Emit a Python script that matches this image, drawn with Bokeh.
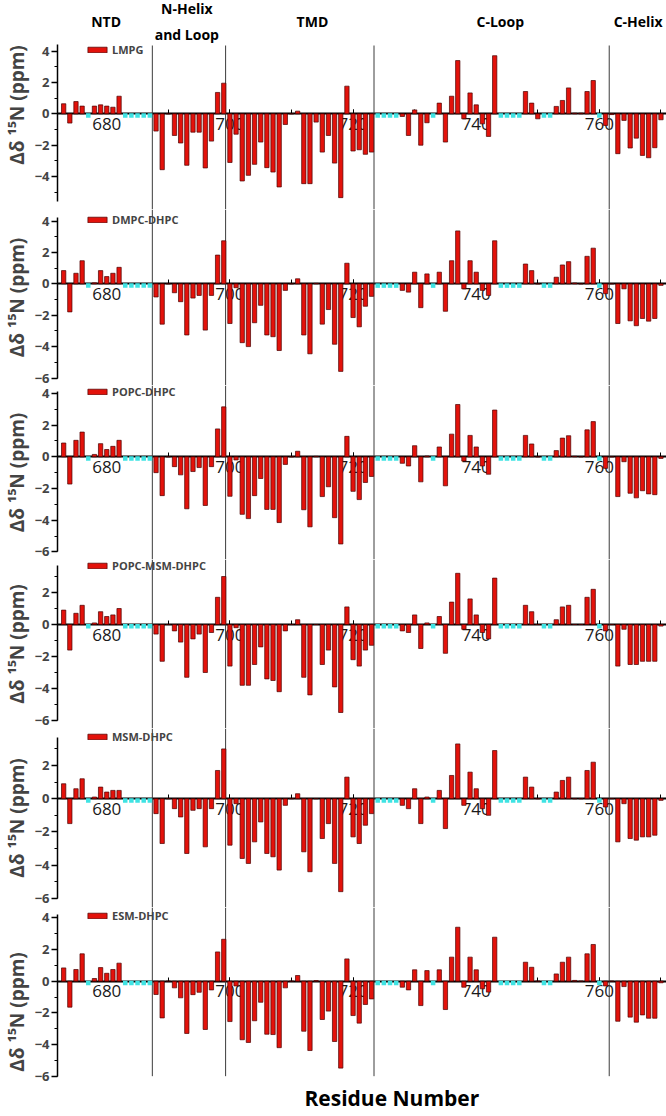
from bokeh.plotting import figure
from bokeh.models import Range1d, SingleIntervalTicker, Legend, LegendItem, ColumnDataSource
from bokeh.layouts import column
from bokeh.core.properties import value
from bokeh.embed import file_html
from bokeh.resources import INLINE

N = None
residues = list(range(673, 771))
unassigned = [677, 683, 684, 685, 686, 687, 724, 725, 726, 727, 733,
              744, 745, 746, 747, 751, 752, 760]
domain_bounds = [687.4, 699.3, 723.4, 761.6]
domain_names = ["NTD", "N-Helix\nand Loop", "TMD", "C-Loop", "C-Helix"]
domain_label_x = [679.9, 693.0, 713.4, 743.9, 766.3]
x_tick_interval = 20
panel_names = ["LMPG", "DMPC-DHPC", "POPC-DHPC", "POPC-MSM-DHPC", "MSM-DHPC", "ESM-DHPC"]
x_title = "Residue Number"
x_title_pos = 726.3
y_title = "Δδ ¹⁵N (ppm)"

lmpg = [0.64, -0.59, 0.78, 0.49, N, 0.49, 0.57, 0.49, 0.42, 1.12,
        N, N, N, N, N,
        -1.10, -3.56, 0.00, -1.38, -1.86, -3.28, -1.17, -1.17, -3.45, -1.74, 1.36, 1.95,
        -3.10, -1.30, -4.28, -3.92, -3.22, -1.80, -3.43, -3.71, -4.66, -0.68,
        0.00, 0.17, -4.45, -4.45, -0.53, -2.44, -1.38, -3.14, -5.34, 1.76,
        -2.37, -2.29, -2.58, -2.44,
        N, N, N, N,
        -0.17, -1.38, 0.25, -2.00, -0.57,
        N,
        0.68, -1.80, 1.12, 3.39, -0.32, 1.33, 0.57, -0.64, -1.44, 3.70,
        N, N, N, N,
        1.42, 0.68, -0.32,
        N, N,
        0.47, 0.85, 1.65, 0.04, 0.04, 1.42, 2.12,
        N,
        -0.74, -0.05, -2.54, -0.42, -2.18, -1.55, -2.65, -2.80, -2.16, -0.38]

dmpc_dhpc = [0.84, -1.79, 0.67, 1.47, N, 0.06, 0.84, 0.46, 0.67, 1.05,
             N, N, N, N, N,
             -0.84, -2.57, 0.00, -0.57, -1.14, -3.26, -0.91, -0.74, -2.95, -0.74, 1.83, 2.74,
             -2.53, -0.25, -3.75, -4.00, -2.48, -1.37, -3.26, -3.37, -4.25, -0.42,
             0.00, 0.32, -3.26, -4.46, 0.03, -2.57, -1.64, -3.85, -5.58, 1.31,
             -2.15, -2.74, -1.43, -0.80,
             N, N, N, N,
             -0.42, -0.53, 0.74, -1.52, 0.63,
             N,
             0.74, -1.75, 1.47, 3.37, -0.32, 1.47, 0.74, -0.42, -0.74, 2.74,
             N, N, N, N,
             1.26, 0.84, 0.00,
             N, N,
             0.42, 1.20, 1.41, 0.05, 0.00, 1.75, 2.27,
             N,
             -0.63, 0.00, -2.53, -0.32, -2.36, -2.67, -2.21, -2.38, -2.21, -0.10]

popc_dhpc = [0.87, -1.72, 1.04, 1.56, N, 0.15, 0.83, 0.46, 0.66, 1.04,
             N, N, N, N, N,
             -1.00, -2.45, 0.00, -0.62, -1.14, -3.28, -0.93, -0.68, -3.07, -0.62, 1.76, 3.15,
             -2.49, -0.20, -3.63, -3.90, -2.45, -1.37, -3.32, -3.32, -4.15, -0.48,
             0.00, 0.35, -3.34, -4.42, 0.03, -2.51, -1.89, -3.84, -5.50, 1.29,
             -2.18, -2.70, -1.62, -1.24,
             N, N, N, N,
             -0.41, -0.58, 0.70, -1.58, 0.05,
             N,
             0.62, -1.83, 1.43, 3.30, -0.27, 1.35, 0.62, -0.58, -1.10, 2.95,
             N, N, N, N,
             1.35, 0.81, 0.00,
             N, N,
             0.39, 1.18, 1.33, 0.03, 0.00, 1.70, 2.22,
             N,
             -0.73, 0.00, -2.51, -0.31, -2.30, -2.59, -2.14, -2.34, -2.39, -0.10]

popc_msm_dhpc = [0.90, -1.60, 0.70, 1.20, N, 0.10, 0.80, 0.50, 0.60, 1.00,
                 N, N, N, N, N,
                 -0.60, -2.30, 0.00, -0.40, -1.10, -3.30, -0.90, -0.60, -3.00, -0.50, 1.70, 3.00,
                 -2.60, -0.20, -3.80, -3.80, -2.50, -1.40, -3.40, -3.50, -4.20, -0.40,
                 0.00, 0.30, -3.30, -4.40, 0.00, -2.50, -1.60, -3.90, -5.50, 1.10,
                 -2.20, -2.60, -1.60, -1.30,
                 N, N, N, N,
                 -0.40, -0.50, 0.60, -1.50, 0.10,
                 N,
                 0.50, -1.80, 1.40, 3.20, -0.30, 1.60, 0.60, -0.50, -0.90, 2.90,
                 N, N, N, N,
                 1.20, 0.80, 0.00,
                 N, N,
                 0.30, 1.10, 1.20, 0.00, 0.00, 1.70, 2.20,
                 N,
                 -0.40, 0.00, -2.60, -0.30, -2.50, -2.50, -2.30, -2.30, -2.30, -0.10]

msm_dhpc = [0.90, -1.50, 0.60, 1.20, N, 0.10, 0.70, 0.40, 0.50, 0.50,
            N, N, N, N, N,
            -0.90, -2.70, 0.00, -0.60, -1.10, -3.30, -0.70, -0.60, -2.90, -0.60, 1.70, 3.00,
            -2.80, -0.30, -3.60, -3.90, -2.60, -1.40, -3.30, -3.50, -4.30, -0.40,
            0.00, 0.30, -3.20, -4.40, 0.00, -2.40, -1.50, -3.90, -5.60, 1.30,
            -2.30, -2.70, -1.60, -0.90,
            N, N, N, N,
            -0.40, -0.60, 0.60, -1.50, 0.10,
            N,
            0.50, -1.80, 1.40, 3.30, -0.40, 1.60, 0.60, -0.60, -1.00, 2.90,
            N, N, N, N,
            1.30, 0.70, 0.00,
            N, N,
            0.40, 1.10, 1.30, 0.00, 0.00, 1.70, 2.20,
            N,
            -0.50, 0.00, -2.60, -0.30, -2.40, -2.50, -2.30, -2.30, -2.20, -0.10]

esm_dhpc = [0.84, -1.64, 0.74, 1.73, N, 0.17, 0.86, 0.50, 0.74, 1.14,
            N, N, N, N, N,
            -0.84, -2.32, 0.00, -0.42, -1.05, -3.30, -0.85, -0.70, -3.05, -0.55, 1.85, 2.65,
            -2.55, -0.30, -3.70, -3.87, -2.50, -1.33, -3.35, -3.37, -4.20, -0.42,
            0.00, 0.36, -3.16, -4.38, 0.04, -2.42, -1.89, -3.81, -5.49, 1.41,
            -2.17, -2.65, -1.47, -1.12,
            N, N, N, N,
            -0.38, -0.55, 0.72, -1.54, 0.67,
            N,
            0.72, -1.79, 1.52, 3.41, -0.38, 1.52, 0.72, -0.48, -0.69, 2.78,
            N, N, N, N,
            1.20, 0.88, 0.00,
            N, N,
            0.46, 1.20, 1.52, 0.05, 0.00, 1.73, 2.32,
            N,
            -0.30, 0.00, -2.53, -0.34, -2.27, -2.59, -2.13, -2.34, -2.34, -0.10]

series = [lmpg, dmpc_dhpc, popc_dhpc, popc_msm_dhpc, msm_dhpc, esm_dhpc]

# ---- layout / style (page pixel positions) ----
FONT = "Open Sans"
W = 666
LEFT = 54
BAR_FILL = "#e3120b"
BAR_LINE = "#4a0000"
CYAN = "#3fe3e3"
# zero line px, px per unit, slot top, slot bottom, axis bounds, legend centre px
layout = [
    (113.3, 15.7, 0, 209, (-5.6, 4.4), 50.5),
    (283.3, 15.7, 209, 385, (-6, 4.2), 220.5),
    (456.3, 15.85, 385, 559.3, (-6, 4.1), 392.0),
    (624.0, 16.0, 559.3, 728, (-6, 3.7), 566.0),
    (798.2, 16.6, 728, 907, (-6, 3.7), 737.5),
    (980.7, 15.83, 907, 1116, (-6, 4.2), 916.5),
]

x_range = Range1d(672, 770.9)
figs = []
for i, (name, vals) in enumerate(zip(panel_names, series)):
    zero, sc, top, bot, bounds, leg_c = layout[i]
    h = int(round(bot)) - int(round(top))
    top = int(round(top))
    hi = (zero - top) / sc
    lo = -(top + h - zero) / sc
    p = figure(width=W, height=h, x_range=x_range, y_range=Range1d(lo, hi),
               output_backend="svg", toolbar_location=None,
               min_border_left=LEFT, min_border_right=0, min_border_top=0, min_border_bottom=0)
    p.outline_line_color = None
    p.grid.visible = False
    p.background_fill_color = "white"

    # vertical domain lines
    y0 = bounds[0] if i == len(series) - 1 else lo
    y1 = (zero - 45) / sc if i == 0 else hi
    p.segment(x0=domain_bounds, x1=domain_bounds, y0=[y0] * len(domain_bounds),
              y1=[y1] * len(domain_bounds), line_color="#3c3c3c", line_width=1)

    xs = [r for r, v in zip(residues, vals) if v is not None]
    ys = [v for v in vals if v is not None]
    src = ColumnDataSource(dict(x=xs, top=ys))
    bars = p.vbar(x="x", top="top", bottom=0, width=0.7, source=src,
                  fill_color=BAR_FILL, line_color=BAR_LINE, line_width=0.7)
    p.scatter(x=unassigned, y=[-1.8 / sc] * len(unassigned), marker="square", size=4.5,
              fill_color=CYAN, line_color=None)

    # x axis on zero line
    xa = p.xaxis[0]
    xa.fixed_location = 0
    xa.ticker = SingleIntervalTicker(interval=x_tick_interval, num_minor_ticks=2)
    xa.axis_line_width = 2
    xa.axis_line_color = "black"
    xa.major_tick_in = 4
    xa.major_tick_out = 0
    xa.minor_tick_in = 4
    xa.minor_tick_out = 0
    xa.major_tick_line_color = "black"
    xa.minor_tick_line_color = "black"
    xa.major_label_text_font = FONT
    xa.major_label_text_font_size = "17px"
    xa.major_label_text_color = "#1a1a1a"
    xa.major_label_standoff = 4
    xa.level = "underlay"

    ya = p.yaxis[0]
    ya.bounds = bounds
    ya.ticker = SingleIntervalTicker(interval=2, num_minor_ticks=2)
    ya.axis_label = y_title
    ya.axis_label_text_font = FONT
    ya.axis_label_text_font_style = "bold"
    ya.axis_label_text_font_size = "19px"
    ya.axis_label_standoff = 2
    ya.major_label_text_font = FONT
    ya.major_label_text_font_style = "bold"
    ya.major_label_text_font_size = "13px"
    ya.major_label_standoff = 2
    ya.major_tick_out = 6
    ya.major_tick_in = 0
    ya.minor_tick_out = 3
    ya.minor_tick_in = 0
    ya.axis_line_width = 1.5
    ya.major_tick_line_width = 1.5
    ya.minor_tick_line_width = 1.2

    # legend: location is its bottom-left corner measured from the frame's bottom-left
    leg = Legend(items=[LegendItem(label=name, renderers=[bars])],
                 location=(28, h - (leg_c - top) - 6.5),
                 glyph_width=24, glyph_height=7, label_height=11, label_standoff=3,
                 label_text_font=FONT, label_text_font_style="bold",
                 label_text_font_size="11px", padding=0, margin=0, spacing=0,
                 border_line_color=None, background_fill_alpha=0)
    p.add_layout(leg)

    if i == 0:
        hy = [(zero - 21) / sc] * len(domain_names)
        p.text(x=domain_label_x, y=hy, text=domain_names, text_align="center",
               text_baseline="middle", text_font=value(FONT), text_font_style="bold",
               text_font_size="14px", text_line_height=1.4, text_color="black")
    if i == len(series) - 1:
        p.text(x=[x_title_pos], y=[(zero - 1097) / sc], text=[x_title], text_align="center",
               text_baseline="middle", text_font=value(FONT), text_font_style="bold",
               text_font_size="21px", text_color="black")
    figs.append(p)

page = column(*figs, spacing=0)
open("out.html", "w").write(file_html(page, INLINE))
